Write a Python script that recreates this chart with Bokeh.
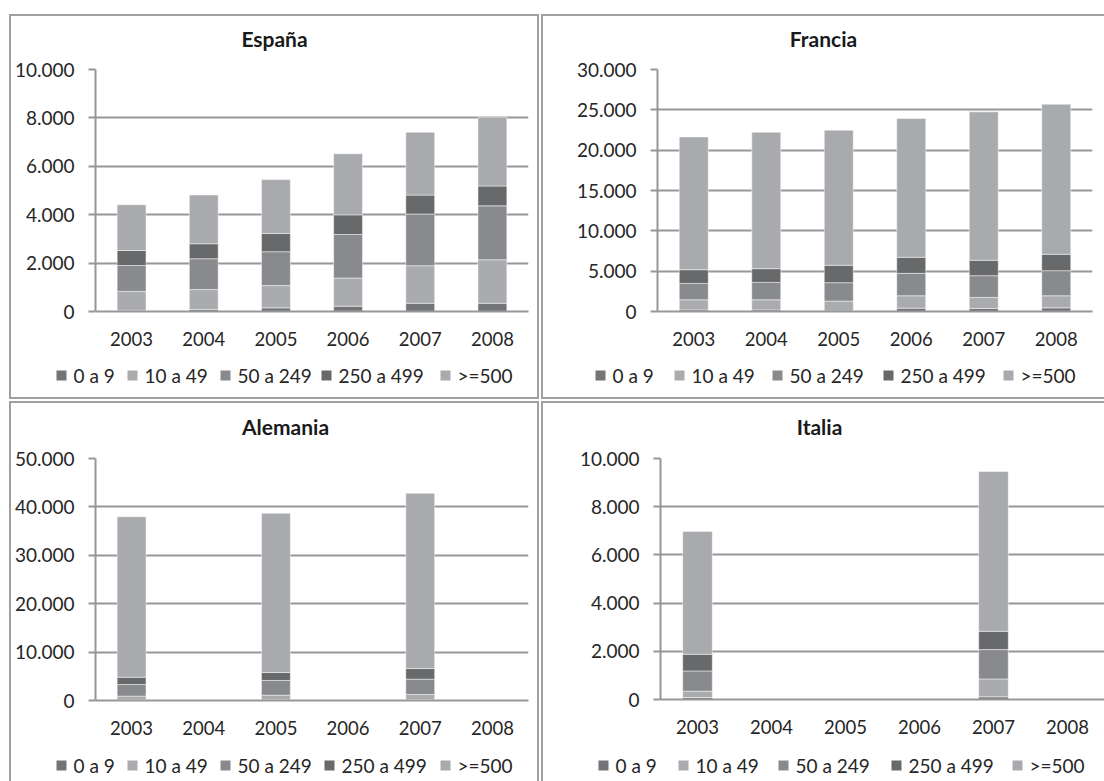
from bokeh.plotting import figure
from bokeh.layouts import row, column
from bokeh.models import (ColumnDataSource, FactorRange, Range1d, FixedTicker)
from bokeh.core.properties import value
from bokeh.embed import file_html
from bokeh.resources import INLINE

NAN = float("nan")

years = ["2003", "2004", "2005", "2006", "2007", "2008"]
size_bands = ["0 a 9", "10 a 49", "50 a 249", "250 a 499", ">=500"]
band_colors = ["#737477", "#aaabae", "#898a8d", "#68696b", "#a9aaad"]

# España
espana_0_9 = [50, 80, 150, 220, 340, 340]
espana_10_49 = [780, 825, 920, 1165, 1550, 1800]
espana_50_249 = [1070, 1275, 1400, 1800, 2140, 2225]
espana_250_499 = [620, 620, 755, 810, 780, 820]
espana_500 = [1890, 2015, 2225, 2525, 2595, 2840]
espana_ticks = [0, 2000, 4000, 6000, 8000, 10000]

# Francia
francia_0_9 = [200, 200, 60, 410, 370, 450]
francia_10_49 = [1250, 1250, 1230, 1540, 1370, 1500]
francia_50_249 = [2030, 2160, 2280, 2780, 2700, 3110]
francia_250_499 = [1700, 1700, 2160, 1990, 1910, 2030]
francia_500 = [16460, 16910, 16740, 17200, 18400, 18600]
francia_ticks = [0, 5000, 10000, 15000, 20000, 25000, 30000]

# Alemania (sin datos en 2004, 2006 y 2008)
alemania_0_9 = [150, None, 180, None, 200, None]
alemania_10_49 = [750, None, 920, None, 1040, None]
alemania_50_249 = [2400, None, 3030, None, 3165, None]
alemania_250_499 = [1510, None, 1650, None, 2200, None]
alemania_500 = [33160, None, 32890, None, 36190, None]
alemania_ticks = [0, 10000, 20000, 30000, 40000, 50000]

# Italia (sin datos salvo 2003 y 2007)
italia_0_9 = [80, None, None, None, 110, None]
italia_10_49 = [265, None, None, None, 745, None]
italia_50_249 = [840, None, None, None, 1215, None]
italia_250_499 = [690, None, None, None, 760, None]
italia_500 = [5100, None, None, None, 6630, None]
italia_ticks = [0, 2000, 4000, 6000, 8000, 10000]

FONT = "Lato"
TEXT = "#262626"
GRID = "#979797"
FRAME = "#a0a0a0"
BAR_LINE = dict(line_color="white", line_width=0.6, line_alpha=0.8)


def fmt(v):
    return f"{v:,}".replace(",", ".")


def clean(vals):
    return [NAN if v is None else v for v in vals]


def no_frame_align(fig):
    # each figure keeps its own borders instead of lining up with its neighbours
    try:
        fig.frame_align = False
    except AttributeError:
        pass


def strip(width, height):
    """Axis-less figure whose data units are its own pixels."""
    s = figure(width=width, height=height, x_range=Range1d(0, width),
               y_range=Range1d(0, height), x_axis_type=None, y_axis_type=None,
               output_backend="svg", toolbar_location=None,
               min_border_left=0, min_border_right=0, min_border_top=0,
               min_border_bottom=0, outline_line_color=None,
               background_fill_color="white", border_fill_color="white")
    no_frame_align(s)
    s.xgrid.visible = False
    s.ygrid.visible = False
    return s


def title_strip(width, height, title, cx, cy):
    s = strip(width, height)
    s.text(x=[cx], y=[cy], text=[title], text_align="center",
           text_baseline="middle", text_font=value(FONT),
           text_font_style="bold", text_font_size=value("21px"),
           text_color="#1a1a1a")
    return s


def chart(series, ticks, width, height, borders):
    left, right, top, bottom = borders
    p = figure(width=width, height=height,
               x_range=FactorRange(*years),
               y_range=Range1d(ticks[0], ticks[-1]),
               output_backend="svg", toolbar_location=None,
               min_border_left=left, min_border_right=right,
               min_border_top=top, min_border_bottom=bottom,
               outline_line_color=None,
               background_fill_color="white", border_fill_color="white")
    no_frame_align(p)

    data = {"year": years}
    for name, vals in zip(size_bands, series):
        data[name] = clean(vals)
    p.vbar_stack(size_bands, x="year", width=0.4,
                 source=ColumnDataSource(data), fill_color=band_colors,
                 **BAR_LINE)

    p.ygrid.grid_line_color = GRID
    p.ygrid.grid_line_width = 2
    p.xgrid.visible = False

    yax = p.yaxis[0]
    yax.ticker = FixedTicker(ticks=ticks, minor_ticks=[])
    yax.major_label_overrides = {t: fmt(t) for t in ticks}
    yax.axis_line_color = GRID
    yax.axis_line_width = 2
    yax.major_tick_line_color = GRID
    yax.major_tick_line_width = 2
    yax.major_tick_out = 7
    yax.major_tick_in = 0
    yax.minor_tick_out = 0
    yax.minor_tick_in = 0
    yax.major_label_standoff = 14
    yax.major_label_text_font = FONT
    yax.major_label_text_font_size = "19px"
    yax.major_label_text_color = TEXT

    xax = p.xaxis[0]
    xax.axis_line_color = GRID
    xax.axis_line_width = 2
    xax.major_tick_out = 0
    xax.major_tick_in = 0
    xax.minor_tick_out = 0
    xax.major_label_standoff = 20
    xax.major_label_text_font = FONT
    xax.major_label_text_font_size = "18.5px"
    xax.major_label_text_color = TEXT
    return p


def key_strip(width, height, label_starts, center_y):
    """Horizontal key of the size bands: a swatch and a label per band."""
    k = strip(width, height)
    src = ColumnDataSource(dict(
        label=size_bands,
        color=band_colors,
        tx=label_starts,
        sx=[s - 12 for s in label_starts],
        y=[center_y] * len(size_bands),
    ))
    k.rect(x="sx", y="y", width=10, height=10, fill_color="color",
           line_color=None, source=src)
    k.text(x="tx", y="y", text="label", source=src, text_baseline="middle",
           text_align="left", text_font=value(FONT),
           text_font_size=value("19px"), text_color=TEXT)
    return k


def panel(title, series, ticks, width, heights, borders, title_xy,
          label_starts, key_y):
    title_h, chart_h, key_h = heights
    t = title_strip(width, title_h, title, *title_xy)
    c = chart(series, ticks, width, chart_h, borders)
    k = key_strip(width, key_h, label_starts, key_y)
    return column(t, c, k, spacing=0,
                  styles={"outline": f"2px solid {FRAME}"})


p1 = panel("España",
           [espana_0_9, espana_10_49, espana_50_249, espana_250_499, espana_500],
           espana_ticks, 526, (40, 300, 41), (82, 9, 13, 45), (263, 18),
           [62, 133, 226, 327, 446], 22)
p2 = panel("Francia",
           [francia_0_9, francia_10_49, francia_50_249, francia_250_499, francia_500],
           francia_ticks, 561, (40, 300, 41), (114, 12, 13, 45), (280, 18),
           [69, 148, 246, 357, 477], 22)
p3 = panel("Alemania",
           [alemania_0_9, alemania_10_49, alemania_50_249, alemania_250_499, alemania_500],
           alemania_ticks, 526, (40, 306, 32), (82, 9, 15, 49), (274, 17),
           [62, 133, 226, 330, 446], 16)
p4 = panel("Italia",
           [italia_0_9, italia_10_49, italia_50_249, italia_250_499, italia_500],
           italia_ticks, 561, (40, 306, 32), (117, 0, 15, 50), (276, 17),
           [72, 152, 252, 365, 486], 16)

layout = column(row(p1, p2, spacing=6), row(p3, p4, spacing=6), spacing=6,
                margin=(16, 0, 0, 11))

open("out.html", "w").write(file_html(layout, INLINE))
